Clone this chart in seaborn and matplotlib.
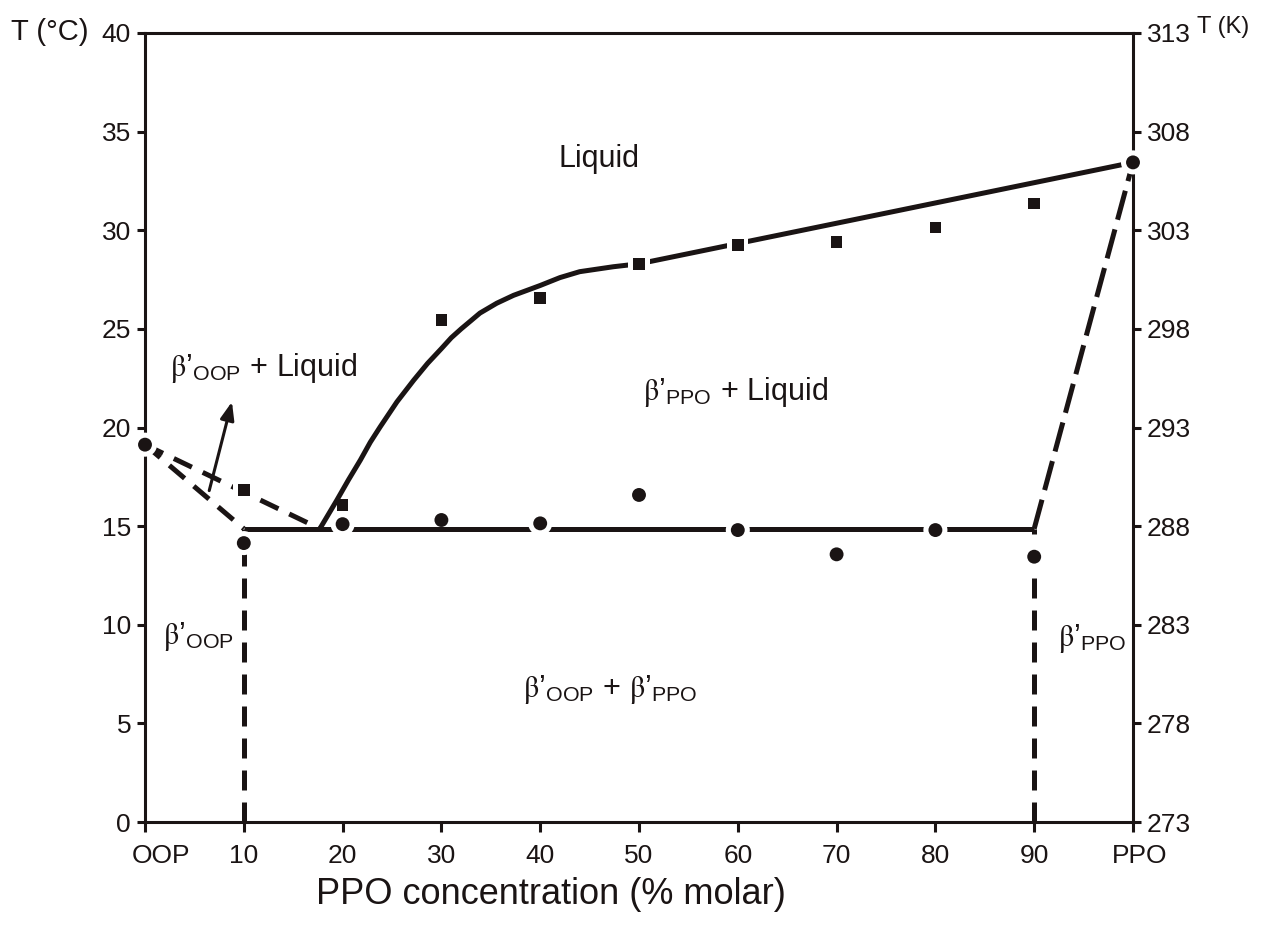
import numpy as np
import matplotlib
matplotlib.use("Agg")
import matplotlib.pyplot as plt
import matplotlib.transforms as mtransforms
import seaborn as sns

sns.set_theme(style="white")
plt.rcParams["font.family"] = ["Liberation Sans", "DejaVu Sans"]
plt.rcParams["mathtext.fontset"] = "stix"

# --- measured data -------------------------------------------------------
conc = [0, 10, 20, 30, 40, 50, 60, 70, 80, 90, 100]
x_ticklabels = ["OOP", "10", "20", "30", "40", "50", "60", "70", "80", "90", "PPO"]

# liquidus (final melting) points, squares
liq_pts_x = [10, 20, 30, 40, 50, 60, 70, 80, 90]
liq_pts_T = [16.83, 16.07, 25.45, 26.58, 28.29, 29.25, 29.39, 30.13, 31.36]

# solidus / onset points, circles
sol_pts_x = [0, 10, 20, 30, 40, 50, 60, 70, 80, 90, 100]
sol_pts_T = [19.13, 14.14, 15.10, 15.31, 15.14, 16.58, 14.80, 13.57, 14.80, 13.45, 33.44]

# phase boundaries
eutectic_T = 14.87
eutectic_x0, eutectic_x1 = 17.7, 90
liquidus_x = [17.7, 19.4, 20.6, 21.8, 22.8, 23.8, 25.5, 27.2, 28.6, 30.0, 31.0, 32.0,
              33.0, 33.9, 35.6, 37.3, 40.0, 42.0, 44.0, 47.4, 50.0, 100.0]
liquidus_T = [14.87, 16.3, 17.35, 18.35, 19.25, 20.03, 21.3, 22.4, 23.25, 24.0, 24.55,
              25.0, 25.42, 25.8, 26.3, 26.7, 27.2, 27.6, 27.9, 28.15, 28.3, 33.44]
oop_melt_T = 19.13
ppo_melt_T = 33.44
solvus_oop_x = 10
solvus_ppo_x = 90

# --- figure --------------------------------------------------------------
W, H = 1263, 935
fig = plt.figure(figsize=(W / 100, H / 100), dpi=100)
ax = fig.add_axes([145 / W, (H - 822) / H, (1133 - 145) / W, (822 - 33) / H])
ax.set_xlim(0, 100)
ax.set_ylim(0, 40)

LW = 3.6
k = "#1a1414"
dash_short = (4.0, 2.4)
dash_long = (6.0, 2.0)

boundaries = []  # (xs, ys, dashes or None)
# solid: eutectic horizontal and liquidus curve
boundaries.append(([solvus_oop_x, eutectic_x1], [eutectic_T, eutectic_T], None))
boundaries.append((liquidus_x, liquidus_T, None))
# dashed: OOP side
boundaries.append(([0, solvus_oop_x], [oop_melt_T, eutectic_T], dash_short))
boundaries.append(([0, eutectic_x0], [oop_melt_T, eutectic_T], dash_short))
# dashed: PPO side
boundaries.append(([solvus_ppo_x, 100], [eutectic_T, ppo_melt_T], dash_long))
# dashed: solvus verticals
boundaries.append(([solvus_oop_x, solvus_oop_x], [0, eutectic_T], dash_short))
boundaries.append(([solvus_ppo_x, solvus_ppo_x], [0, eutectic_T], dash_short))

for xs, ys, d in boundaries:
    line, = ax.plot(xs, ys, color=k, lw=LW, zorder=2,
                    solid_capstyle="butt", solid_joinstyle="round",
                    dash_capstyle="butt")
    if d is not None:
        line.set_dashes(d)


def on_boundary(px, py, tol=0.35):
    """True when a marker sits on one of the drawn boundary lines."""
    for xs, ys, _ in boundaries:
        xs = np.asarray(xs, float)
        ys = np.asarray(ys, float)
        if xs[0] == xs[-1]:
            if abs(px - xs[0]) < 0.3 and min(ys) - tol <= py <= max(ys) + tol:
                return True
            continue
        order = np.argsort(xs)
        if xs.min() - 0.01 <= px <= xs.max() + 0.01:
            if abs(np.interp(px, xs[order], ys[order]) - py) < tol:
                return True
    return False


# white halos behind markers that lie on a boundary
halo_sq = [(x, t) for x, t in zip(liq_pts_x, liq_pts_T) if on_boundary(x, t)]
halo_ci = [(x, t) for x, t in zip(sol_pts_x, sol_pts_T) if on_boundary(x, t)]
if halo_sq:
    sns.scatterplot(x=[p[0] for p in halo_sq], y=[p[1] for p in halo_sq], ax=ax,
                    marker="s", s=230, color="white", edgecolor="none",
                    zorder=3, clip_on=False, legend=False)
if halo_ci:
    sns.scatterplot(x=[p[0] for p in halo_ci], y=[p[1] for p in halo_ci], ax=ax,
                    marker="o", s=300, color="white", edgecolor="none",
                    zorder=3, clip_on=False, legend=False)

sns.scatterplot(x=liq_pts_x, y=liq_pts_T, ax=ax, marker="s", s=70, color=k,
                edgecolor="none", zorder=4, clip_on=False, legend=False)
sns.scatterplot(x=sol_pts_x, y=sol_pts_T, ax=ax, marker="o", s=100, color=k,
                edgecolor="none", zorder=4, clip_on=False, legend=False)

# --- axes styling ------------------------------------------------------------
for sp in ax.spines.values():
    sp.set_linewidth(2.2)
    sp.set_color(k)
    sp.set_visible(True)

TICK_FS = 19
ax.set_xticks(conc)
ax.set_xticklabels(x_ticklabels)
ax.set_yticks(np.arange(0, 41, 5))
ax.tick_params(axis="x", direction="out", length=7, width=2.2, colors=k,
               labelsize=TICK_FS, pad=9, bottom=True, top=False)
ax.tick_params(axis="y", direction="out", length=6, width=2.2, colors=k,
               labelsize=TICK_FS, pad=4, left=True, right=False)

# end labels sit slightly inward of their ticks
xt = ax.get_xticklabels()
xt[0].set_transform(xt[0].get_transform() +
                    mtransforms.ScaledTranslation(16 / 100, 0, fig.dpi_scale_trans))
xt[-1].set_transform(xt[-1].get_transform() +
                     mtransforms.ScaledTranslation(7 / 100, 0, fig.dpi_scale_trans))

ax.set_xlabel("PPO concentration (% molar)", fontsize=26, color=k)
ax.xaxis.set_label_coords((551 - 145) / (1133 - 145), -(877 - 822) / (822 - 33))
ax.set_ylabel("")

axr = ax.twinx()
axr.set_ylim(273, 313)
axr.set_yticks(np.arange(273, 314, 5))
axr.tick_params(axis="y", direction="out", length=6, width=2.2, colors=k,
                labelsize=TICK_FS, pad=4, right=True, left=False)
for sp in axr.spines.values():
    sp.set_visible(False)
axr.grid(False)
ax.grid(False)

# axis titles
fig.text(11 / W, 1 - 32 / H, "T (°C)", fontsize=21, color=k, ha="left", va="center")
fig.text(1197 / W, 1 - 27 / H, "T (K)", fontsize=17, color=k, ha="left", va="center")

# --- region labels -----------------------------------------------------------
fs = 22
beta = r"$\mathrm{\beta}$’"
ax.text(46, 33.6, "Liquid", fontsize=fs, color=k, ha="center", va="center")
ax.text(2.5, 23.0, beta + r"$_\mathregular{OOP}$ + Liquid", fontsize=fs, color=k,
        ha="left", va="center")
ax.text(50.4, 21.8, beta + r"$_\mathregular{PPO}$ + Liquid", fontsize=fs, color=k,
        ha="left", va="center")
ax.text(1.8, 9.4, beta + r"$_\mathregular{OOP}$", fontsize=fs, color=k,
        ha="left", va="center")
ax.text(47.1, 6.7, beta + r"$_\mathregular{OOP}$ + " + beta + r"$_\mathregular{PPO}$",
        fontsize=fs, color=k, ha="center", va="center")
ax.text(92.4, 9.3, beta + r"$_\mathregular{PPO}$", fontsize=fs, color=k,
        ha="left", va="center")

ax.annotate("", xy=(8.8, 21.3), xytext=(6.5, 16.8),
            arrowprops=dict(arrowstyle="-|>,head_length=0.9,head_width=0.35",
                            color=k, lw=2.2, shrinkA=0, shrinkB=0))

fig.savefig("out.png", dpi=100, facecolor="white")
